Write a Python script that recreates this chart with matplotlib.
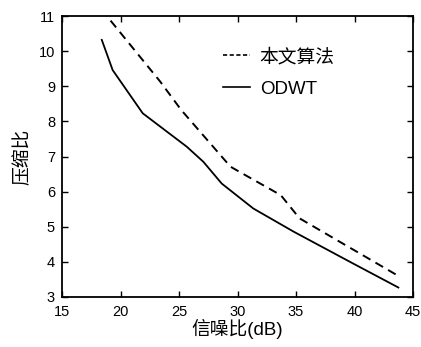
import matplotlib
matplotlib.use('Agg')
import matplotlib.pyplot as plt
from matplotlib.lines import Line2D

plt.rcParams['font.family'] = ['Liberation Sans', 'Noto Sans CJK SC', 'DejaVu Sans']

# 信噪比 (dB) vs 压缩比
ours_snr = [18.4, 19.0, 23.4, 25.2, 29.4, 30.4, 33.7, 35.3, 43.9]
ours_ratio = [11.2, 10.93, 9.13, 8.32, 6.71, 6.52, 5.90, 5.24, 3.57]

odwt_snr = [18.4, 19.33, 21.9, 25.66, 27.08, 28.65, 31.35, 34.8, 39.9, 43.75]
odwt_ratio = [10.32, 9.46, 8.23, 7.28, 6.85, 6.23, 5.52, 4.86, 3.95, 3.27]

series_names = ['本文算法', 'ODWT']
xticks = [15, 20, 25, 30, 35, 40, 45]
yticks = [3, 4, 5, 6, 7, 8, 9, 10, 11]

fig = plt.figure(figsize=(4.21, 3.47), dpi=100)
ax = fig.add_axes([62 / 421, 50 / 347, 351 / 421, 281 / 347])

ax.plot(ours_snr, ours_ratio, 'k--', lw=1.4, dashes=(4.5, 3))
ax.plot(odwt_snr, odwt_ratio, 'k-', lw=1.3)

ax.set_xlim(15, 45)
ax.set_ylim(3, 11)
ax.set_xticks(xticks)
ax.set_yticks(yticks)
ax.tick_params(direction='in', top=True, right=True, length=4, width=1,
               labelsize=10.5)
ax.tick_params(axis='x', pad=6)
ax.tick_params(axis='y', pad=5)
for s in ax.spines.values():
    s.set_linewidth(1.3)

ax.set_xlabel('信噪比(dB)', fontsize=13.5, labelpad=0)
ax.set_ylabel('压缩比', fontsize=13.5, labelpad=5)

# legend handles with the short dash of the original key
handles = [Line2D([], [], color='k', lw=1.2, dashes=(2.5, 1.5)),
           Line2D([], [], color='k', lw=1.2)]
ax.legend(handles, series_names, loc='center left',
          bbox_to_anchor=(0.459, 0.797), frameon=False, borderpad=0,
          borderaxespad=0, fontsize=13.5, handlelength=1.45,
          handletextpad=0.5, labelspacing=0.78)

fig.savefig('out.png', dpi=100)
